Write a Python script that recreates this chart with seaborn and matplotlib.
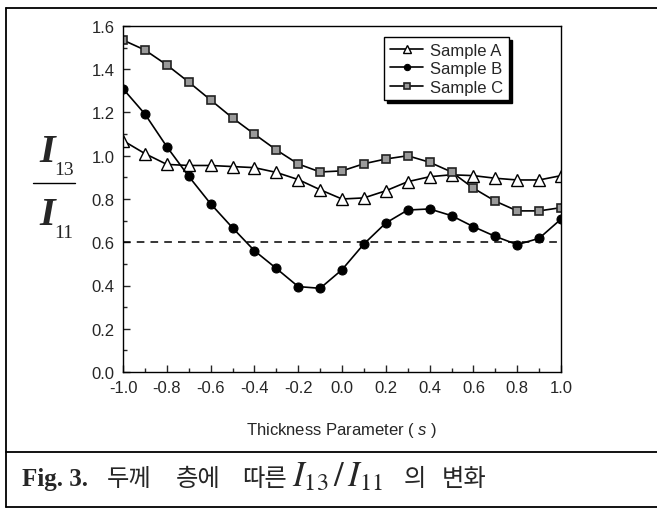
import numpy as np
import pandas as pd
import matplotlib
matplotlib.use('Agg')
import matplotlib.pyplot as plt
import seaborn as sns
from matplotlib.lines import Line2D
from matplotlib.ticker import MultipleLocator, FormatStrFormatter

# data
s_values = [-1.0, -0.9, -0.8, -0.7, -0.6, -0.5, -0.4, -0.3, -0.2, -0.1, 0.0,
            0.1, 0.2, 0.3, 0.4, 0.5, 0.6, 0.7, 0.8, 0.9, 1.0]
sample_a = [1.07, 1.01, 0.96, 0.955, 0.955, 0.95, 0.945, 0.923, 0.89, 0.843, 0.80,
            0.805, 0.838, 0.88, 0.903, 0.912, 0.908, 0.896, 0.888, 0.888, 0.908]
sample_b = [1.31, 1.193, 1.042, 0.905, 0.778, 0.667, 0.561, 0.479, 0.395, 0.387, 0.473,
            0.592, 0.689, 0.749, 0.754, 0.723, 0.672, 0.627, 0.589, 0.618, 0.707]
sample_c = [1.535, 1.489, 1.42, 1.341, 1.258, 1.175, 1.10, 1.027, 0.962, 0.925, 0.93,
            0.963, 0.985, 1.0, 0.97, 0.925, 0.85, 0.79, 0.745, 0.745, 0.76]
sample_names = ['Sample A', 'Sample B', 'Sample C']
reference_level = 0.6

df = pd.DataFrame({'s': s_values, 'Sample A': sample_a,
                   'Sample B': sample_b, 'Sample C': sample_c})

sns.set_theme(style='ticks', rc={
    'xtick.direction': 'in',
    'ytick.direction': 'in',
    'axes.unicode_minus': False,
    'axes.linewidth': 1.0,
    'axes.edgecolor': 'black',
})
plt.rcParams['font.family'] = ['Liberation Sans', 'DejaVu Sans']
plt.rcParams['mathtext.fontset'] = 'custom'
plt.rcParams['mathtext.it'] = 'Liberation Sans:italic'
plt.rcParams['mathtext.rm'] = 'Liberation Sans'

W, H = 657, 510
fig = plt.figure(figsize=(W / 100, H / 100), dpi=100)
ax = fig.add_axes([123 / W, 1 - 373 / H, 438 / W, 346 / H])

marker_styles = {
    'Sample A': dict(marker='^', markerfacecolor='white', markeredgecolor='black',
                     markersize=8, markeredgewidth=1.0),
    'Sample B': dict(marker='o', markerfacecolor='black', markeredgecolor='black',
                     markersize=6.5),
    'Sample C': dict(marker='s', markerfacecolor='#9a9a9a', markeredgecolor='#222222',
                     markersize=6, markeredgewidth=1.2),
}
for name in sample_names:
    sns.lineplot(data=df, x='s', y=name, ax=ax, color='black', linewidth=1.2,
                 label=name, **marker_styles[name])

ax.axhline(reference_level, color='black', linestyle='--', dashes=(5, 4), linewidth=1.1,
           zorder=1)

ax.set_xlim(-1.0, 1.0)
ax.set_ylim(0.0, 1.6)
ax.xaxis.set_major_locator(MultipleLocator(0.2))
ax.xaxis.set_minor_locator(MultipleLocator(0.1))
ax.yaxis.set_major_locator(MultipleLocator(0.2))
ax.yaxis.set_minor_locator(MultipleLocator(0.1))
ax.xaxis.set_major_formatter(FormatStrFormatter('%.1f'))
ax.yaxis.set_major_formatter(FormatStrFormatter('%.1f'))
ax.tick_params(which='major', length=5, width=1, labelsize=12, pad=6)
ax.tick_params(which='minor', length=3, width=1)
ax.tick_params(top=False, right=False, which='both')
for side in ['top', 'right']:
    ax.spines[side].set_visible(True)

ax.set_xlabel('Thickness Parameter ( $s$ )', fontsize=12, labelpad=18)
ax.set_ylabel('')

leg = ax.legend(loc='upper right', bbox_to_anchor=(0.881, 0.968), borderaxespad=0,
                fontsize=12, frameon=True, fancybox=False, edgecolor='black',
                framealpha=1, handlelength=2.0, handletextpad=0.4,
                labelspacing=0.2, borderpad=0.35, markerscale=0.7,
                shadow={'color': 'black', 'alpha': 1})
leg.get_frame().set_linewidth(1.0)

# y label: I13 / I11 as a stacked fraction
def px(x, y):
    return x / W, 1 - y / H

fig.text(*px(39, 162), 'I', fontsize=29, fontweight='bold', fontstyle='italic',
         family='Liberation Serif', ha='left', va='baseline')
fig.text(*px(54, 175), '13', fontsize=14, family='Liberation Serif',
         ha='left', va='baseline')
fig.add_artist(Line2D([33 / W, 75 / W], [1 - 184 / H, 1 - 184 / H],
                      color='black', linewidth=1.0))
fig.text(*px(39, 225), 'I', fontsize=29, fontweight='bold', fontstyle='italic',
         family='Liberation Serif', ha='left', va='baseline')
fig.text(*px(54, 238), '11', fontsize=14, family='Liberation Serif',
         ha='left', va='baseline')

# frame lines around the figure and caption
frame_kw = dict(color='black', linewidth=1.3)
fig.add_artist(Line2D([6 / W, 1.0], [1 - 9 / H, 1 - 9 / H], **frame_kw))
fig.add_artist(Line2D([6 / W, 6 / W], [1 - 9 / H, 1 - 508 / H], **frame_kw))
fig.add_artist(Line2D([6 / W, 1.0], [1 - 453 / H, 1 - 453 / H], **frame_kw))
fig.add_artist(Line2D([6 / W, 1.0], [1 - 508 / H, 1 - 508 / H], **frame_kw))

# caption, word by word
korean = dict(fontsize=17.5, family=['Noto Sans CJK KR', 'DejaVu Sans'])
caption = [
    (22, 'Fig. 3.', dict(fontsize=18, fontweight='bold', family='Liberation Serif')),
    (107, '두께', korean),
    (176, '층에', korean),
    (242, '따른', korean),
    (292, '$I_{13}\\,/\\,I_{11}$', dict(fontsize=25, math_fontfamily='stix')),
    (404, '의', korean),
    (442, '변화', korean),
]
for x_px, txt, kw in caption:
    fig.text(x_px / W, 1 - 486 / H, txt, ha='left', va='baseline', **kw)

fig.savefig('out.png', dpi=100)
